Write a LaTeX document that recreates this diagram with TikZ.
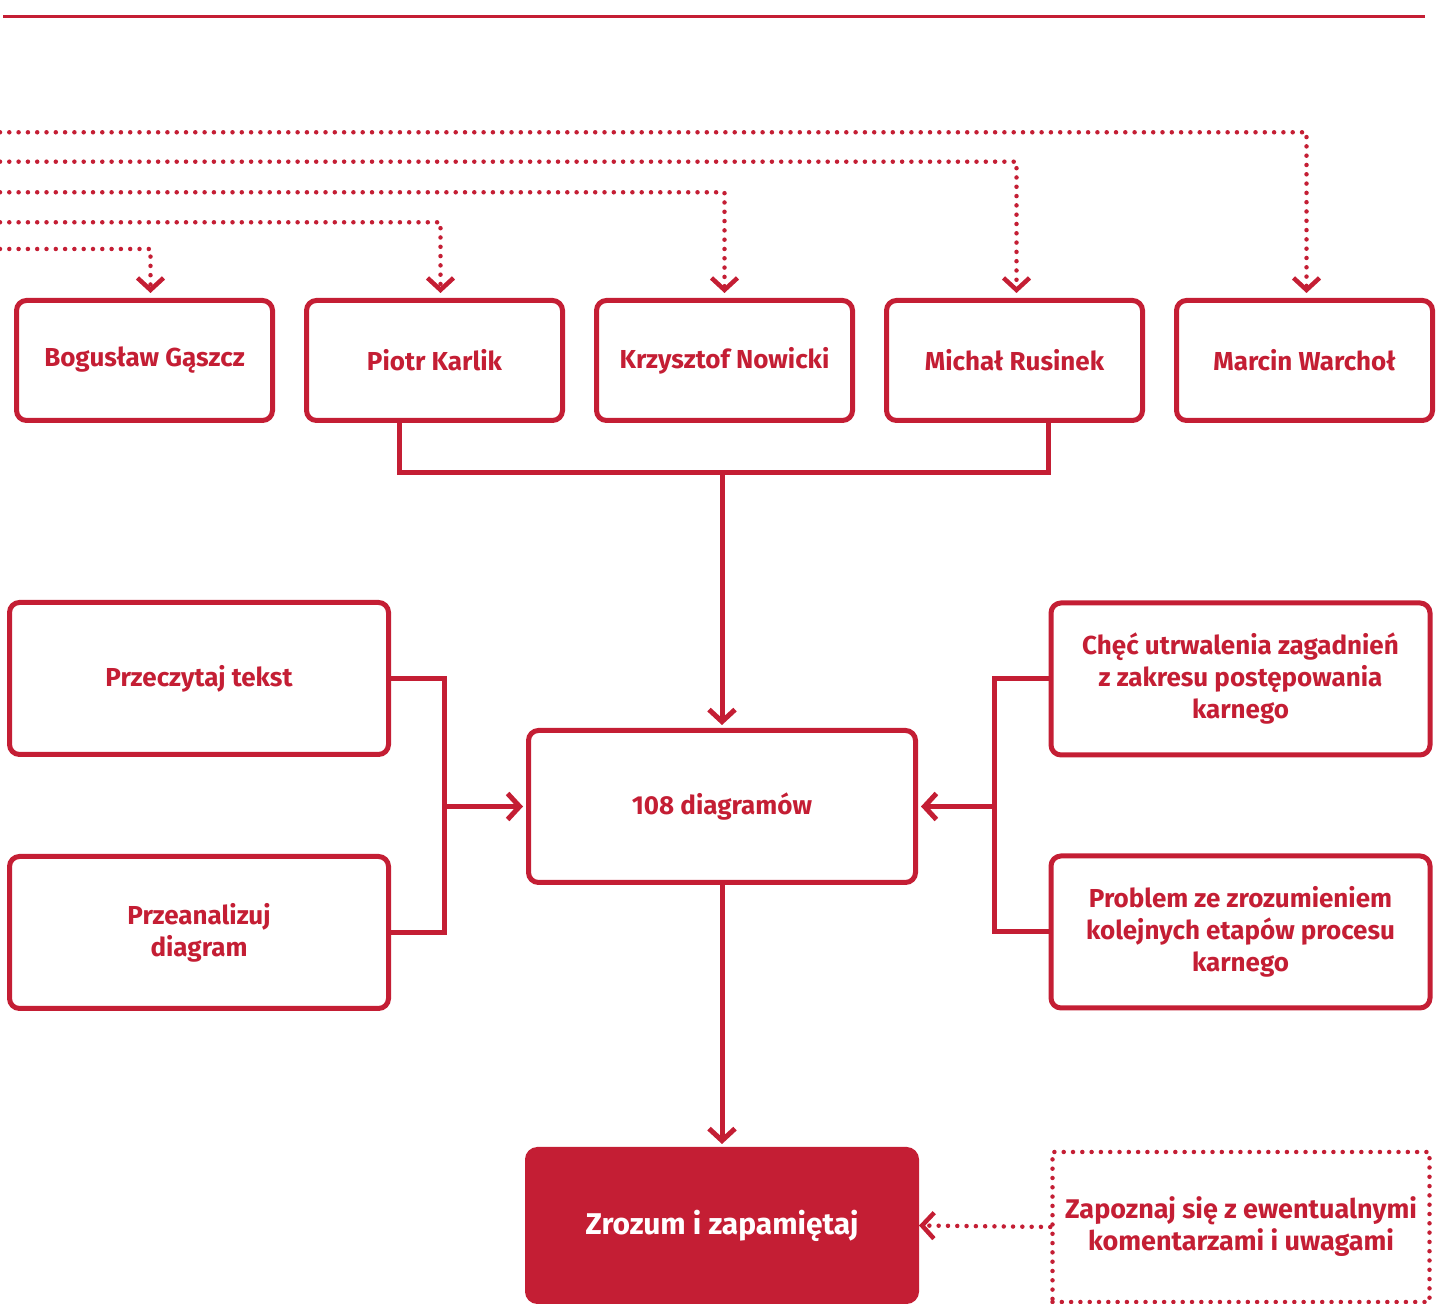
\documentclass[tikz,border=0pt]{standalone}
\usepackage{fontspec}
\setmainfont{Fira Sans}
\usetikzlibrary{arrows.meta, positioning}
\definecolor{plred}{RGB}{196,30,52}
\tikzstyle{box} = [rectangle, rounded corners=10pt, draw=plred, line width=5pt, minimum width=379pt, minimum height=152pt, text centered, align=center, text=plred, font=\fontsize{26}{32}\selectfont\bfseries]
\tikzstyle{person} = [box, minimum width=256pt, minimum height=120pt]
\tikzstyle{mainbox} = [box, minimum width=387pt]
\tikzstyle{endbox} = [box, fill=plred, text=white, minimum width=389pt, font=\fontsize{30}{36}\selectfont\bfseries]
\tikzstyle{notebox} = [box, rounded corners=0pt, line width=4.5pt, line cap=round, dash pattern=on 0pt off 9.3pt, minimum width=377pt, minimum height=150pt, font=\fontsize{27}{32}\selectfont\bfseries]
\tikzstyle{line} = [draw=plred, line width=5pt, >={Straight Barb[length=12pt,width=26pt]}]
\tikzstyle{dots} = [line, line width=4.5pt, line cap=round, dash pattern=on 0pt off 9.3pt]

\begin{document}
\begin{tikzpicture}[node distance=29pt, x=1pt, y=1pt]
\useasboundingbox (0,0) rectangle (1446,1304);
\coordinate (rulel) at (3,1287);
\coordinate (ruler) at (1425,1287);
\draw [line, line width=3pt] (rulel) -- (ruler);

\node (krzysztof) [person] at (724.5,943.5) {Krzysztof Nowicki};
\node (piotr) [person, left=of krzysztof] {Piotr Karlik};
\node (boguslaw) [person, left=of piotr] {Bogusław Gąszcz};
\node (michal) [person, right=of krzysztof] {Michał Rusinek};
\node (marcin) [person, right=of michal] {Marcin Warchoł};

\node (diag) [mainbox] at (722,497.5) {108 diagramów};
\node (read) [box] at (199,625.5) {Przeczytaj tekst};
\node (analyse) [box, below=97pt of read] {Przeanalizuj\\diagram};
\node (wish) [box] at (1240.5,625) {Chęć utrwalenia zagadnień\\z zakresu postępowania\\karnego};
\node (problem) [box, below=96pt of wish] {Problem ze zrozumieniem\\kolejnych etapów procesu\\karnego};
\node (learn) [endbox, below=262pt of diag] {Zrozum i zapamiętaj};
\node (notes) [notebox] at (1241,77) {Zapoznaj się z ewentualnymi\\komentarzami i uwagami};

\coordinate (src1) at (0,1171.7);
\coordinate (src2) at (0,1142.3);
\coordinate (src3) at (0,1111.7);
\coordinate (src4) at (0,1081.7);
\coordinate (src5) at (0,1055);
\draw [dots,->,shorten >=5pt] (src1) -| ([xshift=2pt]marcin.north);
\draw [dots,->,shorten >=5pt] (src2) -| ([xshift=2pt]michal.north);
\draw [dots,->,shorten >=5pt] (src3) -| (krzysztof.north);
\draw [dots,->,shorten >=5pt] (src4) -| ([xshift=6pt]piotr.north);
\draw [dots,->,shorten >=5pt] (src5) -| ([xshift=6pt]boguslaw.north);

\coordinate (jtop) at (722,831);
\coordinate (jleft) at (444,500);
\coordinate (jright) at (994,500);
\draw [line] ([xshift=-35pt]piotr.south) |- (jtop) -| ([xshift=34pt]michal.south);
\draw [line,->,shorten >=3pt] (jtop) -- (diag.north);
\draw [line] (read.east) -| (jleft) |- (analyse.east);
\draw [line,->,shorten >=3pt] (jleft |- diag.west) -- (diag.west);
\draw [line] (wish.west) -| (jright) |- (problem.west);
\draw [line,->,shorten >=3pt] (jright |- diag.east) -- (diag.east);
\draw [line,->,shorten >=3pt] (diag.south) -- (learn.north);
\draw [dots,->] (notes.west) -- (learn.east);
\end{tikzpicture}
\end{document}
